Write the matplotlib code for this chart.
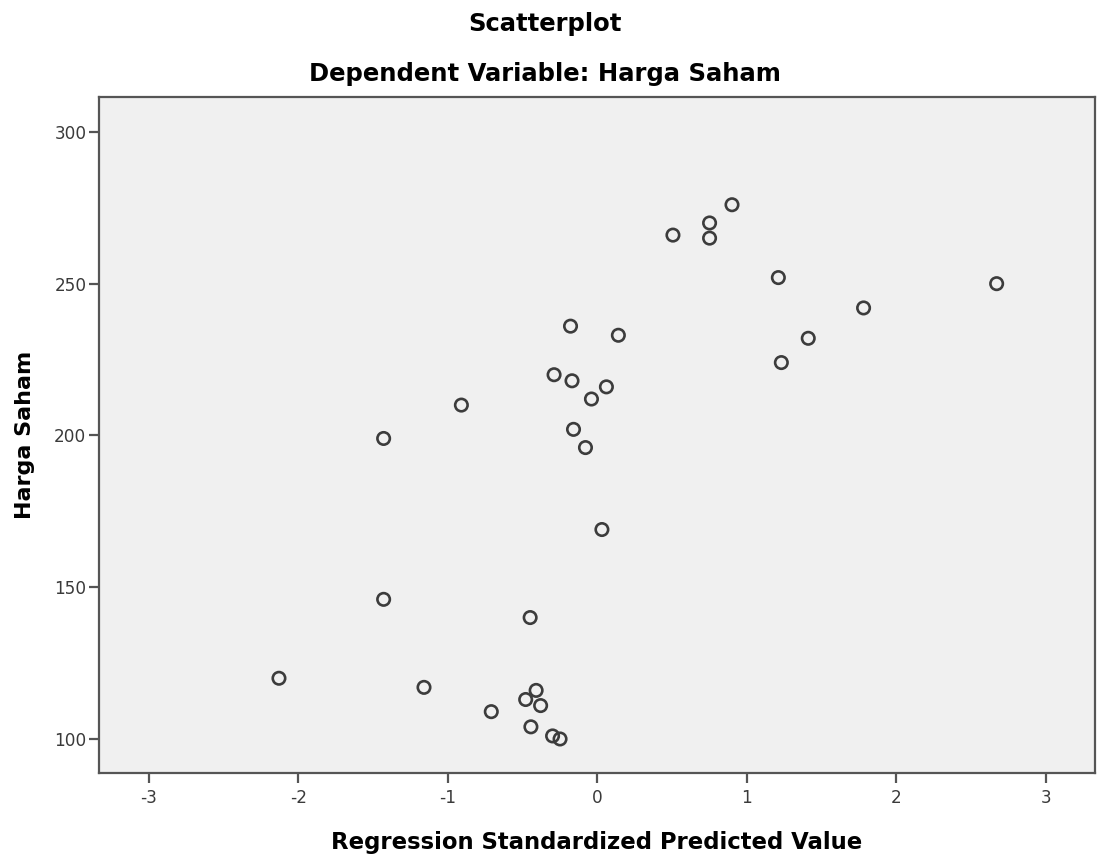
import matplotlib
matplotlib.use("Agg")
import matplotlib.pyplot as plt

plt.rcParams['font.family'] = ['DejaVu Sans']

pred = [0.90, 0.75, 0.75, 0.505, 1.21, 2.67, 1.78, 1.41, 1.23,
        -0.18, 0.14, -0.29, -0.17, 0.06, -0.04, -0.16, -0.08,
        -0.91, -1.43, 0.03, -1.43, -0.45, -2.13, -1.16,
        -0.71, -0.48, -0.41, -0.38, -0.445, -0.30, -0.25]
harga = [276, 270, 265, 266, 252, 250, 242, 232, 224,
         236, 233, 220, 218, 216, 212, 202, 196,
         210, 199, 169, 146, 140, 120, 117,
         109, 113, 116, 111, 104, 101, 100]
xticks = [-3, -2, -1, 0, 1, 2, 3]
yticks = [100, 150, 200, 250, 300]

fig = plt.figure(figsize=(10.97, 8.56), dpi=100)
ax = fig.add_axes([0.0902, 0.097, 0.908, 0.7897])
ax.set_facecolor('#f0f0f0')
ax.scatter(pred, harga, s=80, facecolors='none', edgecolors='#3c3c3c', linewidths=1.9, zorder=3)
ax.set_xlim(-3.334, 3.328)
ax.set_ylim(88.8, 311.5)
ax.set_xticks(xticks)
ax.set_yticks(yticks)
ax.set_xticklabels([str(t) for t in xticks])
ax.set_yticklabels([str(t) for t in yticks])
for sp in ax.spines.values():
    sp.set_color('#555555')
    sp.set_linewidth(1.6)
ax.tick_params(direction='out', length=7.5, width=1.6, color='#555555',
               labelsize=12.2, labelcolor='#3a3a3a')
ax.tick_params(axis='y', pad=1.5)
ax.tick_params(axis='x', pad=4)
ax.set_xlabel('Regression Standardized Predicted Value', fontsize=16.4, fontweight='bold', labelpad=17)
ax.set_ylabel('Harga Saham', fontsize=16, fontweight='bold', labelpad=14)
fig.text(0.497, 0.972, 'Scatterplot', ha='center', va='center', fontsize=17.5, fontweight='bold')
fig.text(0.497, 0.913, 'Dependent Variable: Harga Saham', ha='center', va='center', fontsize=17.5, fontweight='bold')
fig.savefig('out.png', dpi=100)
